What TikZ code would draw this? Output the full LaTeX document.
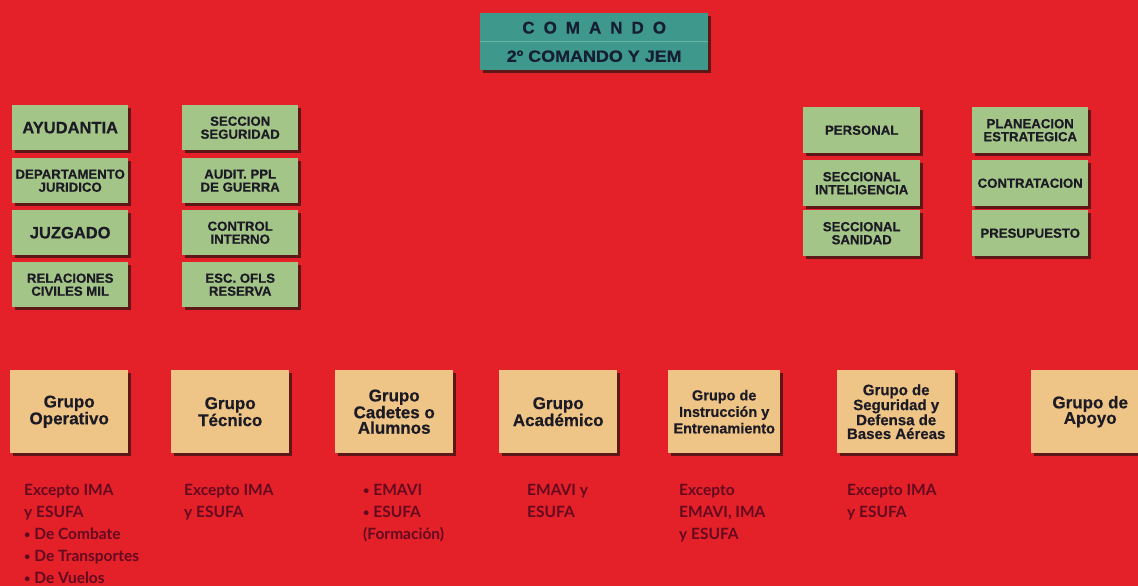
\documentclass[tikz,border=0pt]{standalone}
\usepackage{fontspec}
\setmainfont{Liberation Sans}
\newfontfamily\boxfont{Liberation Sans}[BoldFeatures={FakeBold=0.5}]
\newfontfamily\cmdfont{Liberation Sans}[FakeStretch=1.1,BoldFeatures={FakeBold=0.5}]
\newfontfamily\notefont{Lato}
\usetikzlibrary{shadows}
\definecolor{bgred}{RGB}{228,32,40}
\definecolor{boxgreen}{RGB}{164,197,136}
\definecolor{tealbox}{RGB}{62,152,140}
\definecolor{tealline}{RGB}{110,180,165}
\definecolor{tanbox}{RGB}{238,197,134}
\definecolor{shadowc}{RGB}{95,22,22}
\definecolor{notec}{RGB}{100,10,32}
\definecolor{boxtext}{RGB}{28,26,36}
\definecolor{cmdtext}{RGB}{22,30,52}
\newcommand\smbul{{\fontsize{11}{11}\selectfont\raisebox{0.5pt}{•}}}
\tikzset{
  shad/.style={drop shadow={shadow xshift=2.5pt,shadow yshift=-2.5pt,fill=shadowc,opacity=1}},
  gbox/.style={shad,fill=boxgreen,anchor=north west,inner sep=0pt,align=center,
    text=boxtext,minimum width=116pt,minimum height=45pt,
    font=\boxfont\bfseries\fontsize{13.2}{13}\selectfont},
  bigtxt/.style={font=\boxfont\bfseries\fontsize{16.5}{16}\selectfont},
  grp/.style={shad,fill=tanbox,anchor=north west,inner sep=0pt,align=center,
    text=boxtext,minimum width=118pt,minimum height=83pt,
    font=\boxfont\bfseries\fontsize{17}{15.5}\selectfont},
  cmdbox/.style={shad,fill=tealbox,anchor=north west,inner sep=0pt,minimum width=228pt,
    text=cmdtext},
  note/.style={anchor=north west,inner sep=0pt,align=left,text=notec,
    font=\notefont\bfseries\fontsize{15.5}{22}\selectfont}
}
\begin{document}
\begin{tikzpicture}[x=1pt,y=-1pt]
\fill[bgred] (0,0) rectangle (1138,586);
\useasboundingbox (0,0) rectangle (1138,586);

% command
\node[cmdbox,minimum height=29pt,font=\boxfont\bfseries\fontsize{17}{17}\selectfont] (cmdtop) at (480,13)
  {C\kern9pt O\kern9pt M\kern9pt A\kern9pt N\kern9pt D\kern9pt O};
\node[cmdbox,minimum height=28pt,font=\cmdfont\bfseries\fontsize{16.3}{16}\selectfont] (cmdbot) at (480,42)
  {2º COMANDO Y JEM};
\draw[tealline,line width=1pt] (cmdbot.north west) -- (cmdbot.north east);

% left columns
\node[gbox,bigtxt] (ayu) at (12,105) {AYUDANTIA};
\node[gbox] (dep) at (12,158) {DEPARTAMENTO\\JURIDICO};
\node[gbox,bigtxt] (juz) at (12,210) {JUZGADO};
\node[gbox] (rel) at (12,262) {RELACIONES\\CIVILES MIL};

\node[gbox] (seg) at (182,105) {SECCION\\SEGURIDAD};
\node[gbox] (aud) at (182,158) {AUDIT. PPL\\DE GUERRA};
\node[gbox] (con) at (182,210) {CONTROL\\INTERNO};
\node[gbox] (esc) at (182,262) {ESC. OFLS\\RESERVA};

% right columns
\node[gbox,minimum width=117pt,minimum height=46pt] (per) at (803,107) {PERSONAL};
\node[gbox,minimum width=117pt,minimum height=46pt] (int) at (803,160) {SECCIONAL\\INTELIGENCIA};
\node[gbox,minimum width=117pt,minimum height=46pt] (san) at (803,210) {SECCIONAL\\SANIDAD};

\node[gbox,minimum height=46pt] (pla) at (972,107) {PLANEACION\\ESTRATEGICA};
\node[gbox,minimum height=46pt] (ctr) at (972,160) {CONTRATACION};
\node[gbox,minimum height=46pt] (pre) at (972,210) {PRESUPUESTO};

% groups
\node[grp] (g1) at (10,370) {Grupo\\Operativo};
\node[grp] (g2) at (171,370) {Grupo\\Técnico};
\node[grp] (g3) at (335,370) {Grupo\\Cadetes o\\Alumnos};
\node[grp] (g4) at (499,370) {Grupo\\Académico};
\node[grp,minimum width=112pt,font=\boxfont\bfseries\fontsize{14.5}{16.5}\selectfont] (g5) at (668,370)
  {Grupo de\\Instrucción y\\Entrenamiento};
\node[grp,font=\boxfont\bfseries\fontsize{15}{13.8}\selectfont] (g6) at (837,370)
  {Grupo de\\Seguridad y\\Defensa de\\Bases Aéreas};
\node[grp] (g7) at (1031,370) {Grupo de\\Apoyo};

% notes
\node[note] (n1) at (24,484) {Excepto IMA\\y ESUFA\\\smbul{} De Combate\\\smbul{} De Transportes\\\smbul{} De Vuelos};
\node[note] (n2) at (184,484) {Excepto IMA\\y ESUFA};
\node[note] (n3) at (363,484) {\smbul{} EMAVI\\\smbul{} ESUFA\\(Formación)};
\node[note] (n4) at (527,484) {EMAVI y\\ESUFA};
\node[note] (n5) at (679,484) {Excepto\\EMAVI, IMA\\y ESUFA};
\node[note] (n6) at (847,484) {Excepto IMA\\y ESUFA};
\end{tikzpicture}
\end{document}
